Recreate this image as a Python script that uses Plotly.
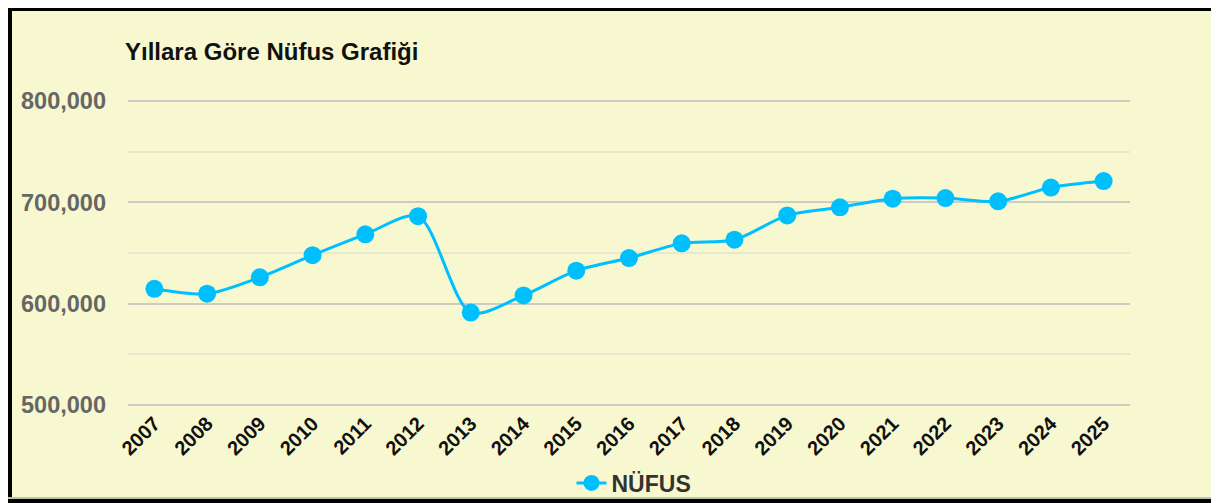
import plotly.graph_objects as go

years = ["2007", "2008", "2009", "2010", "2011", "2012", "2013", "2014", "2015", "2016",
         "2017", "2018", "2019", "2020", "2021", "2022", "2023", "2024", "2025"]
population = [614700, 609800, 626000, 647900, 668400, 686300, 591200, 608100, 632600, 645000,
              659500, 663100, 687100, 695100, 703600, 704200, 701000, 714600, 721000]
y_ticks = [500000, 600000, 700000, 800000]
y_tick_labels = ["500,000", "600,000", "700,000", "800,000"]
title_text = "Yıllara Göre Nüfus Grafiği"
series_name = "NÜFUS"

OFF = 8  # page body margin
W, H = 1219 - OFF, 503 - OFF
L, R, T, B = 128 - OFF, 1130 - OFF, 100 - OFF, 406 - OFF  # plot area in figure pixels
BG = "#F8F8D0"
LINE = "#00BFFF"
FONT = "Arial, Liberation Sans, sans-serif"


def px(xp):
    return (xp - L) / (R - L)


def py(yp):
    return (B - yp) / (B - T)


fig = go.Figure()
fig.add_trace(go.Scatter(
    x=years, y=population, name=series_name, mode="lines+markers",
    line=dict(color=LINE, width=3, shape="spline", smoothing=0.8),
    marker=dict(color=LINE, size=18),
    cliponaxis=False,
))

shapes = [
    # left border
    dict(type="rect", xref="paper", yref="paper", x0=px(0), x1=px(4), y0=py(H), y1=py(0),
         fillcolor="black", line_width=0, layer="above"),
    # top border
    dict(type="rect", xref="paper", yref="paper", x0=px(0), x1=px(W), y0=py(3), y1=py(0),
         fillcolor="black", line_width=0, layer="above"),
    # bottom border
    dict(type="rect", xref="paper", yref="paper", x0=px(0), x1=px(W), y0=py(H), y1=py(H - 4),
         fillcolor="black", line_width=0, layer="above"),
    dict(type="rect", xref="paper", yref="paper", x0=px(0), x1=px(W), y0=py(H - 4), y1=py(H - 6),
         fillcolor="#BDBDB0", line_width=0, layer="above"),
]

fig.update_layout(
    width=W, height=H, autosize=False,
    margin=dict(l=L, r=W - R, t=T, b=H - B, pad=0, autoexpand=False),
    paper_bgcolor=BG, plot_bgcolor=BG,
    font=dict(family=FONT),
    title=dict(text="<b>" + title_text + "</b>", x=(125 - OFF) / W, xref="container", xanchor="left",
               y=1 - (52 - OFF) / H, yanchor="middle", yref="container",
               font=dict(size=24, color="#111111", family=FONT)),
    xaxis=dict(type="category", range=[-0.5, len(years) - 0.5], showgrid=False, zeroline=False,
               showline=False, ticks="", tickangle=-45, automargin=False,
               tickfont=dict(size=20, color="#111111", family=FONT, weight="bold"),
               ticklabelstandoff=1),
    yaxis=dict(range=[499000, 801000], tickvals=y_ticks, ticktext=y_tick_labels,
               showgrid=True, gridcolor="#CCCCC4", gridwidth=2, zeroline=False, showline=False,
               ticks="", tickfont=dict(size=23.5, color="#666666", family=FONT, weight="bold"),
               ticklabelstandoff=21, automargin=False,
               minor=dict(dtick=50000, tick0=0, showgrid=True, gridcolor="#E8E8CC", gridwidth=2)),
    showlegend=True,
    legend=dict(orientation="h", x=0.505, xanchor="center", xref="paper",
                y=1 - (483 - OFF) / H, yanchor="middle", yref="container",
                font=dict(size=23, color="#333333", family=FONT, weight="bold"),
                bgcolor="rgba(0,0,0,0)", itemwidth=30),
    shapes=shapes,
)

fig.write_html("out.html")
